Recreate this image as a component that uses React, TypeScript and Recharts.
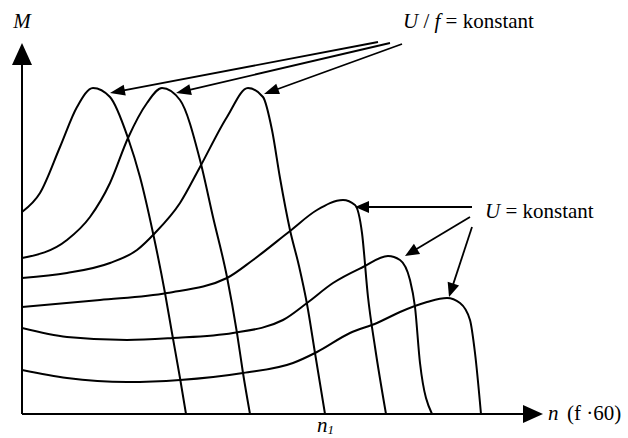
import { LineChart, Line, XAxis, YAxis, ReferenceLine, ReferenceDot } from 'recharts';

// Torque M over speed n; arbitrary units
// three U/f = konstant curves (tall) and three U = konstant curves (flattening)
const curveA = [
    { n: 0, m: 202 }, { n: 18, m: 221 }, { n: 38, m: 267 }, { n: 55, m: 307 },
    { n: 71, m: 326 }, { n: 88, m: 317 }, { n: 106, m: 276 }, { n: 118, m: 237 },
    { n: 131, m: 181 }, { n: 143, m: 121 }, { n: 150, m: 81 }, { n: 158, m: 36 },
    { n: 164, m: 0 },
];
const curveB = [
    { n: 0, m: 156 }, { n: 45, m: 174 }, { n: 68, m: 197 }, { n: 88, m: 231 },
    { n: 106, m: 276 }, { n: 125, m: 311 }, { n: 140, m: 326 }, { n: 158, m: 314 },
    { n: 178, m: 254 }, { n: 191, m: 197 }, { n: 205, m: 137 }, { n: 215, m: 81 },
    { n: 221, m: 41 }, { n: 228, m: 0 },
];
const curveC = [
    { n: 0, m: 136 }, { n: 45, m: 141 }, { n: 88, m: 151 }, { n: 115, m: 164 },
    { n: 133, m: 181 }, { n: 158, m: 211 }, { n: 178, m: 247 }, { n: 205, m: 297 },
    { n: 226, m: 326 }, { n: 241, m: 317 }, { n: 250, m: 284 }, { n: 258, m: 236 },
    { n: 268, m: 184 }, { n: 277, m: 148 }, { n: 285, m: 110 }, { n: 293, m: 61 },
    { n: 303, m: 0 },
];
const curveD = [
    { n: 0, m: 107 }, { n: 78, m: 114 }, { n: 145, m: 121 }, { n: 205, m: 136 },
    { n: 231, m: 154 }, { n: 268, m: 183 }, { n: 295, m: 204 }, { n: 321, m: 214 },
    { n: 333, m: 209 }, { n: 340, m: 181 }, { n: 346, m: 117 }, { n: 353, m: 67 },
    { n: 364, m: 0 },
];
const curveE = [
    { n: 0, m: 86 }, { n: 45, m: 77 }, { n: 105, m: 74 }, { n: 151, m: 76 },
    { n: 211, m: 81 }, { n: 261, m: 94 }, { n: 285, m: 111 }, { n: 311, m: 131 },
    { n: 341, m: 147 }, { n: 366, m: 158 }, { n: 378, m: 154 }, { n: 388, m: 134 },
    { n: 393, m: 107 }, { n: 398, m: 51 }, { n: 410, m: 0 },
];
const curveF = [
    { n: 0, m: 44 }, { n: 45, m: 36 }, { n: 105, m: 32 }, { n: 158, m: 34 },
    { n: 221, m: 41 }, { n: 271, m: 51 }, { n: 295, m: 62 }, { n: 328, m: 81 },
    { n: 355, m: 91 }, { n: 378, m: 102 }, { n: 405, m: 112 }, { n: 425, m: 116 },
    { n: 438, m: 111 }, { n: 448, m: 94 }, { n: 453, m: 61 }, { n: 459, m: 0 },
];

const curves = [curveA, curveB, curveC, curveD, curveE, curveF];

// annotation arrows (from label towards curve), in chart units
const ufArrows = [
    [{ x: 356, y: 372 }, { x: 88, y: 321 }],
    [{ x: 368, y: 371 }, { x: 154, y: 321 }],
    [{ x: 380, y: 370 }, { x: 242, y: 320 }],
];
const uArrows = [
    [{ x: 450, y: 207 }, { x: 333, y: 207 }],
    [{ x: 448, y: 197 }, { x: 383, y: 158 }],
    [{ x: 450, y: 187 }, { x: 427, y: 117 }],
];

const FONT = '"Liberation Serif", "Times New Roman", serif';
const FS = 21;

const arrowShape = (len: number, half: number, sw: number) => (props: any) => {
    const { x1, y1, x2, y2 } = props;
    const dx = x2 - x1;
    const dy = y2 - y1;
    const d = Math.hypot(dx, dy) || 1;
    const ux = dx / d;
    const uy = dy / d;
    const bx = x2 - ux * len;
    const by = y2 - uy * len;
    const px = -uy * half;
    const py = ux * half;
    return (
        <g>
            <line x1={x1} y1={y1} x2={bx + ux} y2={by + uy} stroke="#000" strokeWidth={sw} />
            <polygon points={`${x2},${y2} ${bx + px},${by + py} ${bx - px},${by - py}`} fill="#000" />
        </g>
    );
};

const textShape = (render: (x: number, y: number) => any) => (props: any) => render(props.cx, props.cy);

export default function App() {
    return (
        <div style={{ position: 'absolute', left: 0, top: 0, background: '#fff' }}>
            <LineChart width={628} height={438} margin={{ top: 44, right: 106, bottom: 24, left: 22 }}>
                <XAxis type="number" dataKey="n" domain={[0, 500]} hide allowDataOverflow />
                <YAxis type="number" dataKey="m" domain={[0, 370]} hide allowDataOverflow />

                {curves.map((c, i) => (
                    <Line
                        key={`curve-${i}`}
                        data={c}
                        dataKey="m"
                        type="monotone"
                        dot={false}
                        stroke="#000"
                        strokeWidth={2}
                        isAnimationActive={false}
                    />
                ))}

                {/* axes with arrowheads */}
                <ReferenceLine segment={[{ x: 0, y: 0 }, { x: 521, y: 0 }]} ifOverflow="visible" shape={arrowShape(20, 9, 2)} />
                <ReferenceLine segment={[{ x: 0, y: 0 }, { x: 0, y: 371 }]} ifOverflow="visible" shape={arrowShape(22, 10, 2)} />

                {ufArrows.map((s, i) => (
                    <ReferenceLine key={`uf-${i}`} segment={s} ifOverflow="visible" shape={arrowShape(15, 5.5, 1.8)} />
                ))}
                {uArrows.map((s, i) => (
                    <ReferenceLine key={`u-${i}`} segment={s} ifOverflow="visible" shape={arrowShape(14, 6, 1.8)} />
                ))}

                <ReferenceDot x={0} y={386} ifOverflow="visible" shape={textShape((x, y) => (
                    <text x={x} y={y} textAnchor="middle" fontFamily={FONT} fontSize={FS} fontStyle="italic">M</text>
                ))} />
                <ReferenceDot x={381} y={386} ifOverflow="visible" shape={textShape((x, y) => (
                    <text x={x} y={y} fontFamily={FONT} fontSize={FS}>
                        <tspan fontStyle="italic">U</tspan> / <tspan fontStyle="italic">f</tspan> = konstant
                    </text>
                ))} />
                <ReferenceDot x={463} y={196} ifOverflow="visible" shape={textShape((x, y) => (
                    <text x={x} y={y} fontFamily={FONT} fontSize={FS}>
                        <tspan fontStyle="italic">U</tspan> = konstant
                    </text>
                ))} />
                <ReferenceDot x={526} y={-6} ifOverflow="visible" shape={textShape((x, y) => (
                    <text x={x} y={y} fontFamily={FONT} fontSize={FS}>
                        <tspan fontStyle="italic">n</tspan>
                        <tspan x={x + 19}>(f ·60)</tspan>
                    </text>
                ))} />
                <ReferenceDot x={295} y={-18} ifOverflow="visible" shape={textShape((x, y) => (
                    <text x={x} y={y} fontFamily={FONT} fontSize={FS} fontStyle="italic">
                        n<tspan fontSize={13} dy={2}>1</tspan>
                    </text>
                ))} />
            </LineChart>
        </div>
    );
}
